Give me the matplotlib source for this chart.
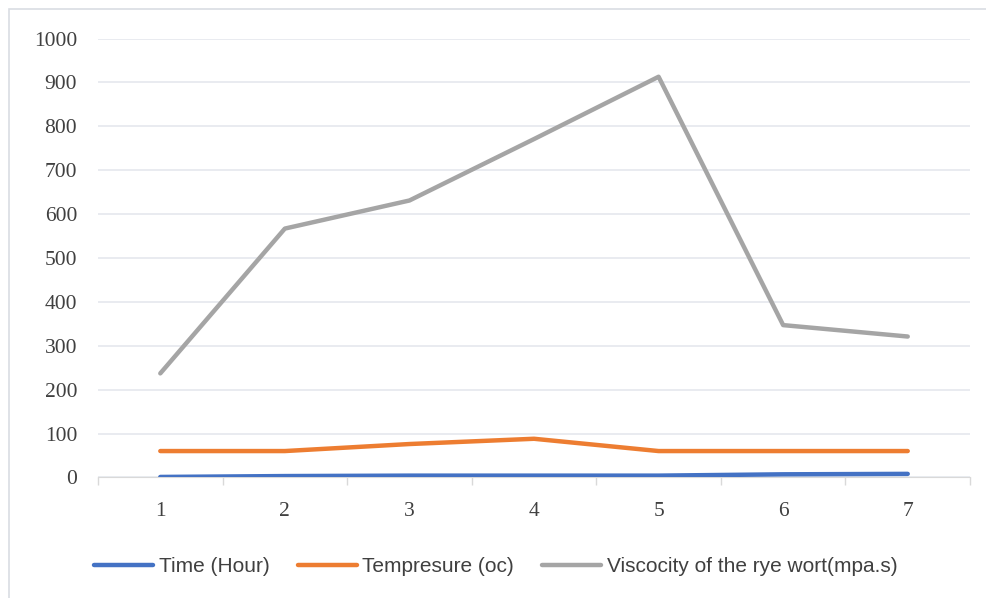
import matplotlib.pyplot as plt
from matplotlib.patches import Rectangle

# chart values
categories = [1, 2, 3, 4, 5, 6, 7]
time_hour = [1, 3, 4, 4, 4, 7, 8]
temperature = [60, 60, 76, 88, 60, 60, 60]
viscosity = [237, 567, 631, 771, 913, 347, 321]
y_ticks = [0, 100, 200, 300, 400, 500, 600, 700, 800, 900, 1000]

fig = plt.figure(figsize=(9.87, 5.98), dpi=100)
ax = fig.add_axes([0.0993, 0.2017, 0.8835, 0.7338])

# light frame round the whole chart, like the excel chart area
fig.patches.append(Rectangle((9 / 987, -0.01), 1.0, 1 - 9 / 598 + 0.01,
                             transform=fig.transFigure, fill=False,
                             edgecolor='#d9dde3', linewidth=1.2))

x = list(range(len(categories)))
ax.plot(x, time_hour, color='#4472c4', lw=3.2, solid_capstyle='round',
        label='Time (Hour)')
ax.plot(x, temperature, color='#ed7d31', lw=3.2, solid_capstyle='round',
        label='Tempresure (oc)')
ax.plot(x, viscosity, color='#a5a5a5', lw=3.2, solid_capstyle='round',
        label='Viscocity of the rye wort(mpa.s)')

ax.set_xlim(-0.5, len(categories) - 0.5)
ax.set_ylim(0, 1000)
ax.set_yticks(y_ticks)
ax.set_yticklabels([str(v) for v in y_ticks], fontfamily='Liberation Serif',
                   fontsize=15.5, color='#404040')
ax.set_xticks(x)
ax.set_xticklabels([str(c) for c in categories], fontfamily='Liberation Serif',
                   fontsize=15.5, color='#404040')
ax.tick_params(axis='y', length=0, pad=15)
ax.tick_params(axis='x', length=0, pad=18)
# tick marks between categories
ax.set_xticks([i - 0.5 for i in range(len(categories) + 1)], minor=True)
ax.tick_params(axis='x', which='minor', length=6, color='#d9d9d9', width=1)

ax.grid(axis='y', color='#e3e6ec', lw=1.1)
ax.set_axisbelow(True)
for s in ['top', 'right', 'left']:
    ax.spines[s].set_visible(False)
ax.spines['bottom'].set_color('#d9d9d9')
ax.spines['bottom'].set_zorder(0.5)

ax.legend(loc='center', bbox_to_anchor=(0.456, -0.204), ncol=3,
          frameon=False, handlelength=2.85, handletextpad=0.25, columnspacing=1.35,
          prop={'family': 'Liberation Sans', 'size': 15},
          labelcolor='#404040')

fig.savefig('out.png', dpi=100)
